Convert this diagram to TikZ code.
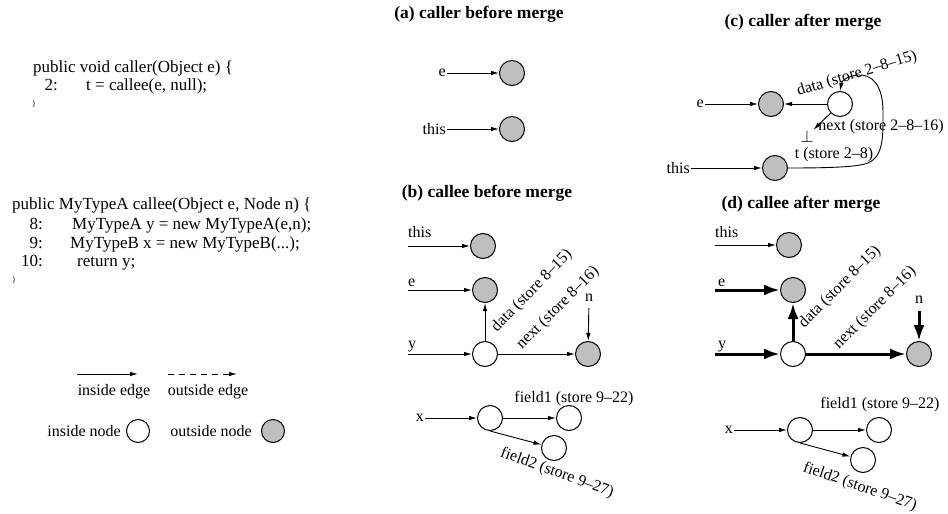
\documentclass[tikz,border=0pt]{standalone}
\usepackage{fontspec}
\setmainfont{Liberation Serif}
\usetikzlibrary{arrows.meta,positioning}
\definecolor{nodegray}{RGB}{191,191,191}
\newcommand{\lblfont}{\fontsize{16}{18}\selectfont}
\newcommand{\ttlfont}{\fontsize{17.5}{20}\selectfont\bfseries}
\newcommand{\codefont}{\fontsize{17}{20}\selectfont}
\newcommand{\bracefont}{\fontsize{8}{9}\selectfont}

\begin{document}
\begin{tikzpicture}[x=1pt,y=-1pt,
  onode/.style={circle,draw,line width=1pt,fill=nodegray,
                minimum size=25pt,inner sep=0pt},
  inode/.style={circle,draw,line width=1pt,fill=white,
                minimum size=25pt,inner sep=0pt},
  edge/.style={line width=0.9pt,-{Latex[length=8pt,width=4.5pt]}},
  fatedge/.style={line width=3pt,-{Latex[length=16pt,width=11pt]}},
  lbl/.style={font=\lblfont,inner sep=1pt},
  ttl/.style={font=\ttlfont},
  code/.style={font=\codefont,anchor=base west,inner sep=0pt}]
  \useasboundingbox (0,0) rectangle (948,514);

  % source code
  \node[code] (cr1) at (33,72) {public void caller(Object e) \{};
  \node[code,anchor=base east] (cr2n) at (58,90) {2:};
  \node[code] (cr2) at (86,90) {t = callee(e, null);};
  \node[code,font=\bracefont] (cr3) at (32,106) {\}};
  \node[code] (ce1) at (12,209) {public MyTypeA callee(Object e, Node n) \{};
  \node[code,anchor=base east] (ce2n) at (43,229) {8:};
  \node[code] (ce2) at (72,229) {MyTypeA y = new MyTypeA(e,n);};
  \node[code,anchor=base east] (ce3n) at (43,248) {9:};
  \node[code] (ce3) at (70,248) {MyTypeB x = new MyTypeB(...);};
  \node[code,anchor=base east] (ce4n) at (43,266) {10:};
  \node[code] (ce4) at (77,266) {return y;};
  \node[code,font=\bracefont] (ce5) at (12,282) {\}};

  % legend
  \coordinate (ie0) at (77,374);
  \coordinate (ie1) at (138,374);
  \draw[edge] (ie0) -- (ie1);
  \node[lbl] (iel) at (114,392) {inside edge};
  \coordinate (oe0) at (168,374);
  \coordinate (oe1) at (237,374);
  \draw[edge,dash pattern=on 6pt off 5pt] (oe0) -- (oe1);
  \node[lbl] (oel) at (208,392) {outside edge};
  \node[inode,minimum size=23pt] (inlg) at (138,431) {};
  \node[lbl,left=4pt of inlg] (inlgl) {inside node};
  \node[onode,minimum size=23pt] (outlg) at (273,431) {};
  \node[lbl,left=8pt of outlg] (outlgl) {outside node};

  % (a) caller before merge
  \node[ttl] (ta) at (479,14) {(a) caller before merge};
  \node[onode] (ea) at (512,73) {};
  \node[onode] (thisa) at (512,129) {};
  \node[lbl,left=52pt of ea] (lea) {e};
  \node[lbl,left=52pt of thisa] (lthisa) {this};
  \draw[edge] (lea) -- (ea);
  \draw[edge] (lthisa) -- (thisa);

  % (b) callee before merge
  \node[ttl] (tb) at (487,193) {(b) callee before merge};
  \node[onode] (thisb) at (483,246) {};
  \node[onode] (eb) at (485,290) {};
  \node[inode] (yb) at (485,354) {};
  \node[onode] (nb) at (588,354) {};
  \coordinate (thisb0) at (408,246);
  \coordinate (eb0) at (408,290);
  \coordinate (yb0) at (408,354);
  \node[lbl,anchor=base west,inner sep=0pt] (lthisb) at (408,237) {this};
  \node[lbl,anchor=base west,inner sep=0pt] (leb) at (408,286) {e};
  \node[lbl,anchor=base west,inner sep=0pt] (lyb) at (408,348) {y};
  \draw[edge] (thisb0) -- (thisb);
  \draw[edge] (eb0) -- (eb);
  \draw[edge] (yb0) -- (yb);
  \draw[edge] (yb) -- (eb);
  \draw[edge] (yb) -- (nb);
  \node[lbl] (lnb) at (589,298) {n};
  \draw[edge,shorten <=5pt] (lnb) -- (nb);
  \node[lbl,rotate=46] (ldb) at (532,291) {data (store 8--15)};
  \node[lbl,rotate=45] (lnxb) at (558,308) {next (store 8--16)};

  \node[inode] (xb) at (490,418) {};
  \node[inode] (f1b) at (569,418) {};
  \node[inode] (f2b) at (554,448) {};
  \node[lbl,left=52pt of xb] (lxb) {x};
  \draw[edge] (lxb) -- (xb);
  \draw[edge] (xb) -- (f1b);
  \draw[edge] (xb.south) -- (f2b);
  \node[lbl] (lf1b) at (574,399) {field1 (store 9--22)};
  \node[lbl,rotate=-20] (lf2b) at (557,473) {field2 (store 9--27)};

  % (c) caller after merge
  \node[ttl] (tc) at (803,22) {(c) caller after merge};
  \node[onode] (ec) at (771,104) {};
  \node[inode] (dc) at (840,104) {};
  \node[onode] (thisc) at (775,168) {};
  \node[lbl,left=53pt of ec] (lec) {e};
  \node[lbl,left=71pt of thisc] (lthisc) {this};
  \draw[edge] (lec) -- (ec);
  \draw[edge] (lthisc) -- (thisc);
  \draw[edge] (dc) -- (ec);
  \node[lbl,inner sep=0pt] (botc) at (807,136) {$\perp$};
  \draw[edge] (dc) -- (botc);
  \node[lbl] (lnxc) at (881,127) {next (store 2--8--16)};
  \node[lbl] (ltc) at (834,155) {t (store 2--8)};
  \node[lbl,rotate=17] (ldc) at (857,74) {data (store 2--8--15)};
  \draw[edge] (thisc.east) .. controls (830,168) and (858,167) .. (868,163)
    .. controls (884,156) and (883,135) .. (883,112)
    .. controls (883,85) and (872,74) .. (858,75)
    .. controls (848,76) and (842,80) .. (dc.north);

  % (d) callee after merge
  \node[ttl] (td) at (801,204) {(d) callee after merge};
  \node[onode] (thisd) at (789,245) {};
  \node[onode] (ed) at (793,290) {};
  \node[inode] (yd) at (793,354) {};
  \node[onode] (nd) at (919,354) {};
  \coordinate (thisd0) at (715,245);
  \coordinate (ed0) at (715,290);
  \coordinate (yd0) at (715,354);
  \node[lbl,anchor=base west,inner sep=0pt] (lthisd) at (715,237) {this};
  \node[lbl,anchor=base west,inner sep=0pt] (led) at (718,286) {e};
  \node[lbl,anchor=base west,inner sep=0pt] (lyd) at (718,348) {y};
  \draw[edge] (thisd0) -- (thisd);
  \draw[fatedge] (ed0) -- (ed);
  \draw[fatedge] (yd0) -- (yd);
  \draw[fatedge] (yd) -- (ed);
  \draw[fatedge] (yd) -- (nd);
  \node[lbl] (lnd) at (919,300) {n};
  \draw[fatedge,shorten <=6pt] (lnd) -- (nd);
  \node[lbl,rotate=45] (ldd) at (840,287) {data (store 8--15)};
  \node[lbl,rotate=45] (lnxd) at (875,308) {next (store 8--16)};

  \node[inode] (xd) at (800,430) {};
  \node[inode] (f1d) at (879,430) {};
  \node[inode] (f2d) at (863,460) {};
  \node[lbl,left=53pt of xd] (lxd) {x};
  \draw[edge] (lxd) -- (xd);
  \draw[edge] (xd) -- (f1d);
  \draw[edge] (xd.south) -- (f2d);
  \node[lbl] (lf1d) at (880,405) {field1 (store 9--22)};
  \node[lbl,rotate=-19] (lf2d) at (860,487) {field2 (store 9--27)};
\end{tikzpicture}
\end{document}
